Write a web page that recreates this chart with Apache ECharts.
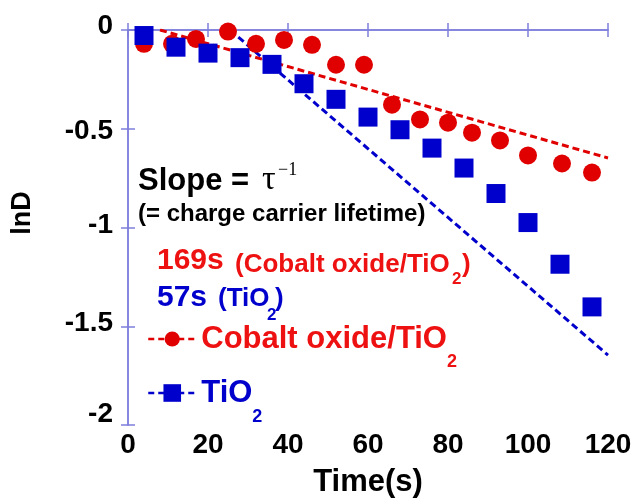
<!DOCTYPE html>
<html>
<head>
<meta charset="utf-8">
<script src="https://cdn.jsdelivr.net/npm/echarts@6/dist/echarts.min.js"></script>
<style>html,body{margin:0;padding:0;background:#fff;}#c{width:637px;height:498px;}</style>
</head>
<body>
<div id="c"></div>
<script>
// Data
var cobaltTime = [4, 11, 17, 25, 32, 39, 46, 52, 59, 66, 73, 80, 86, 93, 100, 108.5, 116];
var cobaltLnD  = [-0.07, -0.07, -0.045, -0.008, -0.07, -0.05, -0.075, -0.176, -0.176, -0.378, -0.453, -0.469, -0.52, -0.559, -0.635, -0.676, -0.722];
var tioTime = [4, 12, 20, 28, 36, 44, 52, 60, 68, 76, 84, 92, 100, 108, 116];
var tioLnD  = [-0.028, -0.087, -0.117, -0.14, -0.174, -0.272, -0.351, -0.441, -0.505, -0.598, -0.699, -0.828, -0.975, -1.186, -1.402];
// dashed fit lines (endpoints)
var cobaltFitTime = [8, 120];
var cobaltFitLnD  = [0, -0.648];
var tioFitTime = [25.5, 120];
var tioFitLnD  = [0, -1.646];
var xTicks = [0, 20, 40, 60, 80, 100, 120];
var yTicks = [0, -0.5, -1, -1.5, -2];

function zip(a, b) { return a.map(function (v, i) { return [v, b[i]]; }); }

var SANS = '"Liberation Sans", Arial, Helvetica, sans-serif';
var SERIF = '"Liberation Serif", "Times New Roman", serif';
var RED = '#e00000';
var REDT = '#ee1111';
var BLUE = '#0000cc';
var AX = '#7f7fdc';

var chart = echarts.init(document.getElementById('c'), null, {renderer: 'canvas'});

var yRichKey = {'0': 'z', '-0.5': 'h', '-1': 'o', '-1.5': 'p', '-2': 't'};
function lab(pad) { return {fontFamily: SANS, fontWeight: 'bold', fontSize: 28, color: '#000', padding: pad}; }

var axisTickStyle = {show: true, inside: true, length: 7, lineStyle: {color: AX, width: 1.5}};
var axisLineStyle = {show: true, lineStyle: {color: AX, width: 1.5}};

function legendText(c, p) {
  return {
    m: {fontFamily: SANS, fontWeight: 'bold', fontSize: 31, color: c, lineHeight: 34},
    s: {fontFamily: SANS, fontWeight: 'bold', fontSize: 18, color: c, lineHeight: 18, padding: [p, 0, 0, 0]}
  };
}

var option = {
  animation: false,
  backgroundColor: '#fff',
  grid: {left: 128, right: 29, top: 30, bottom: 73, containLabel: false, outerBoundsMode: 'none'},
  xAxis: [{
    type: 'value', min: 0, max: 120, interval: 20, position: 'bottom',
    axisLine: axisLineStyle, axisTick: axisTickStyle, splitLine: {show: false},
    axisLabel: {margin: 6, fontFamily: SANS, fontWeight: 'bold', fontSize: 28, color: '#000', lineHeight: 28},
    name: 'Time(s)', nameLocation: 'middle', nameGap: 57,
    nameTextStyle: {fontFamily: SANS, fontWeight: 'bold', fontSize: 31, color: '#000', lineHeight: 31, verticalAlign: 'middle'}
  }, {
    type: 'value', min: 0, max: 120, interval: 20, position: 'top',
    axisLine: axisLineStyle, axisTick: axisTickStyle, splitLine: {show: false}, axisLabel: {show: false}
  }],
  yAxis: [{
    type: 'value', min: -2, max: 0, interval: 0.5, position: 'left',
    axisLine: axisLineStyle, axisTick: axisTickStyle, splitLine: {show: false},
    axisLabel: {
      margin: 15, fontFamily: SANS, fontWeight: 'bold', fontSize: 28, color: '#000',
      formatter: function (v) { var s = String(v); return '{' + (yRichKey[s] || 'o') + '|' + s + '}'; },
      rich: {z: lab([0, 0, 8, 0]), h: lab([6, 0, 0, 0]), o: lab([0, 0, 5, 0]), p: lab([0, 0, 6, 0]), t: lab([0, 0, 22, 0])}
    },
    name: 'lnD', nameLocation: 'middle', nameGap: 105, nameRotate: 90,
    nameTextStyle: {fontFamily: SANS, fontWeight: 'bold', fontSize: 27, color: '#000', verticalAlign: 'middle', padding: [0, 0, 0, 29]}
  }, {
    type: 'value', min: -2, max: 0, interval: 0.5, position: 'right',
    axisLine: axisLineStyle, axisTick: axisTickStyle, splitLine: {show: false}, axisLabel: {show: false}
  }],
  legend: [{
    data: ['Cobalt oxide/TiO2'], left: 147, top: 307, padding: 0, orient: 'vertical',
    itemWidth: 48, itemHeight: 19, selectedMode: false,
    lineStyle: {width: 2.5, type: [6, 4], opacity: 1},
    formatter: function () { return '{m|Cobalt oxide/TiO}{s|2}'; },
    textStyle: {rich: legendText(REDT, 46)}
  }, {
    data: ['TiO2'], left: 147, top: 360, padding: 0, orient: 'vertical',
    itemWidth: 48, itemHeight: 22, selectedMode: false,
    lineStyle: {width: 2.5, type: [6, 4], opacity: 1},
    formatter: function () { return '{m|TiO}{s|2}'; },
    textStyle: {rich: legendText(BLUE, 48)}
  }],
  graphic: [
    {type: 'text', x: 138, y: 181, style: {text: 'Slope = ', font: 'bold 31px ' + SANS, fill: '#000', align: 'left', verticalAlign: 'middle'}},
    {type: 'text', x: 262, y: 180, style: {text: 'τ', font: '34px ' + SERIF, fill: '#000', align: 'left', verticalAlign: 'middle'}},
    {type: 'text', x: 278, y: 170, style: {text: '−1', font: '18px ' + SERIF, fill: '#000', align: 'left', verticalAlign: 'middle'}},
    {type: 'text', x: 138, y: 214.5, style: {text: '(= charge carrier lifetime)', font: 'bold 24px ' + SANS, fill: '#000', align: 'left', verticalAlign: 'middle'}},
    {type: 'text', x: 157, y: 261, style: {text: '169s', font: 'bold 30px ' + SANS, fill: REDT, align: 'left', verticalAlign: 'middle'}},
    {type: 'text', x: 235, y: 265, style: {text: '(Cobalt oxide/TiO', font: 'bold 26px ' + SANS, fill: REDT, align: 'left', verticalAlign: 'middle'}},
    {type: 'text', x: 452, y: 279, style: {text: '2', font: 'bold 17px ' + SANS, fill: REDT, align: 'left', verticalAlign: 'middle'}},
    {type: 'text', x: 462, y: 265, style: {text: ')', font: 'bold 26px ' + SANS, fill: REDT, align: 'left', verticalAlign: 'middle'}},
    {type: 'text', x: 157, y: 298, style: {text: '57s', font: 'bold 30px ' + SANS, fill: BLUE, align: 'left', verticalAlign: 'middle'}},
    {type: 'text', x: 218, y: 299, style: {text: '(TiO', font: 'bold 26px ' + SANS, fill: BLUE, align: 'left', verticalAlign: 'middle'}},
    {type: 'text', x: 267, y: 315, style: {text: '2', font: 'bold 17px ' + SANS, fill: BLUE, align: 'left', verticalAlign: 'middle'}},
    {type: 'text', x: 275, y: 299, style: {text: ')', font: 'bold 26px ' + SANS, fill: BLUE, align: 'left', verticalAlign: 'middle'}}
  ],
  series: [{
    name: 'cobaltFit', type: 'line', data: zip(cobaltFitTime, cobaltFitLnD), symbol: 'none', silent: true,
    lineStyle: {color: RED, width: 3, type: [7, 4]}, z: 1
  }, {
    name: 'tioFit', type: 'line', data: zip(tioFitTime, tioFitLnD), symbol: 'none', silent: true,
    lineStyle: {color: BLUE, width: 3, type: [7, 4]}, z: 1
  }, {
    name: 'Cobalt oxide/TiO2', type: 'line', data: zip(cobaltTime, cobaltLnD),
    symbol: 'circle', symbolSize: 18, showAllSymbol: true,
    itemStyle: {color: RED}, lineStyle: {color: RED, width: 0, opacity: 0}, z: 2
  }, {
    name: 'TiO2', type: 'line', data: zip(tioTime, tioLnD),
    symbol: 'rect', symbolSize: 19, showAllSymbol: true,
    itemStyle: {color: BLUE}, lineStyle: {color: BLUE, width: 0, opacity: 0}, z: 3
  }]
};
chart.setOption(option);
</script>
</body>
</html>
